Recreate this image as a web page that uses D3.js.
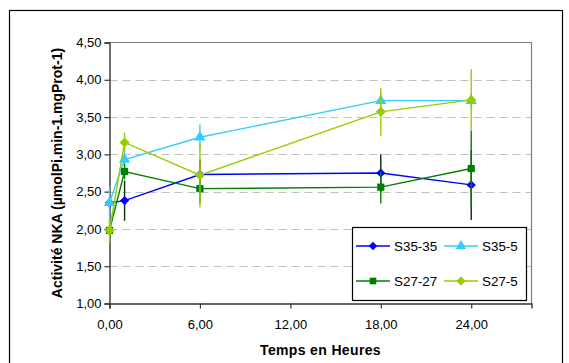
<!DOCTYPE html>
<html>
<head>
<meta charset="utf-8">
<script src="https://cdn.jsdelivr.net/npm/d3@7"></script>
<style>
  body { margin: 0; background: #fff; }
  svg text { font-family: Arial, "Liberation Sans", sans-serif; fill: #000; }
  .tick-label { font-size: 13px; }
  .axis-title { font-size: 14px; font-weight: bold; }
  .legend-label { font-size: 13.4px; }
</style>
</head>
<body>
<svg id="chart" width="569" height="363"></svg>
<script>
// Data
const hours = [0, 1, 6, 18, 24];
const xTicks = [0, 6, 12, 18, 24];
const yTicks = [1, 1.5, 2, 2.5, 3, 3.5, 4, 4.5];

const seriesNames = ["S35-35", "S35-5", "S27-27", "S27-5"];
const s3535 = [2.35, 2.38, 2.73, 2.75, 2.59];
const s3535Err = [0.05, 0.27, 0.2, 0.25, 0.47];
const s355 = [2.35, 2.93, 3.23, 3.72, 3.72];
const s355Err = [0.22, 0.1, 0.17, 0.1, 0.1];
const s2727 = [1.98, 2.77, 2.54, 2.56, 2.81];
const s2727Err = [0.05, 0.1, 0.2, 0.22, 0.51];
const s275 = [1.98, 3.16, 2.72, 3.57, 3.73];
const s275Err = [0.17, 0.13, 0.43, 0.32, 0.41];

// Excel style diamond = square turned 45 degrees
const diamond = { type: d3.symbolSquare, rot: 45 };
const triangle = { type: d3.symbolTriangle, rot: 0 };
const square = { type: d3.symbolSquare, rot: 0 };

const series = [
    { name: seriesNames[0], values: s3535, err: s3535Err, color: "#0000ff", errColor: "#0b2a08", marker: diamond, size: 42 },
    { name: seriesNames[1], values: s355, err: s355Err, color: "#33ccff", errColor: "#33ccff", marker: triangle, size: 55 },
    { name: seriesNames[2], values: s2727, err: s2727Err, color: "#008000", errColor: "#008000", marker: square, size: 52 },
    { name: seriesNames[3], values: s275, err: s275Err, color: "#99cc00", errColor: "#99cc00", marker: diamond, size: 50 }
];

const svg = d3.select("#chart");

// Outer chart frame
svg.append("rect")
    .attr("x", 9.5).attr("y", 10.5)
    .attr("width", 553).attr("height", 360)
    .attr("fill", "#fff")
    .attr("stroke", "#000")
    .attr("stroke-width", 1.2);

const plot = { left: 109.5, right: 531.5, top: 42.5, bottom: 303.5 };

const xScale = d3.scaleLinear().domain([0, 28]).range([plot.left, plot.right]);
const yScale = d3.scaleLinear().domain([1, 4.5]).range([plot.bottom, plot.top]);

// Grid lines
svg.append("g")
    .selectAll("line")
    .data(yTicks.filter(v => v > 1 && v < 4.5))
    .join("line")
    .attr("x1", plot.left)
    .attr("x2", plot.right)
    .attr("y1", d => Math.round(yScale(d)) + 0.5)
    .attr("y2", d => Math.round(yScale(d)) + 0.5)
    .attr("stroke", "#c0c0c0")
    .attr("stroke-dasharray", "8,5");

// Plot area border (top, right)
svg.append("path")
    .attr("d", `M${plot.left},${plot.top}H${plot.right}V${plot.bottom}`)
    .attr("fill", "none")
    .attr("stroke", "#808080")
    .attr("stroke-width", 1.2);

// Axes
const xAxis = d3.axisBottom(xScale)
    .tickValues(xTicks)
    .tickSize(5)
    .tickFormat(d => d3.format(".2f")(d).replace(".", ","));
const gx = svg.append("g")
    .attr("transform", `translate(0,${plot.bottom})`)
    .call(xAxis);

const yAxis = d3.axisLeft(yScale)
    .tickValues(yTicks)
    .tickSize(5)
    .tickFormat(d => d3.format(".2f")(d).replace(".", ","));
const gy = svg.append("g")
    .attr("transform", `translate(${plot.left},0)`)
    .call(yAxis);

[gx, gy].forEach(g => {
    g.select(".domain").attr("stroke", "#333").attr("stroke-width", 1.4);
    g.selectAll(".tick line").attr("stroke", "#333").attr("stroke-width", 1.2);
    g.selectAll(".tick text")
        .attr("class", "tick-label")
        .attr("font-family", null)
        .attr("font-size", null)
        .attr("fill", "#000");
});
gx.selectAll(".tick text").attr("dy", "1.35em");
gy.selectAll(".tick text").attr("x", -8);

// Axis titles
svg.append("text")
    .attr("class", "axis-title")
    .attr("x", (plot.left + plot.right) / 2)
    .attr("y", 355)
    .attr("text-anchor", "middle")
    .attr("letter-spacing", "0.35")
    .text("Temps en Heures");

svg.append("text")
    .attr("class", "axis-title")
    .attr("transform", `translate(62,${(plot.top + plot.bottom) / 2}) rotate(-90)`)
    .attr("text-anchor", "middle")
    .text("Activité NKA (µmolPi.min-1.mgProt-1)");

// Series
const line = d3.line()
    .x(d => xScale(d.t))
    .y(d => yScale(d.v));

series.forEach(s => {
    const pts = hours.map((t, i) => ({ t, v: s.values[i], e: s.err[i] }));
    const g = svg.append("g");

    g.selectAll(".err")
        .data(pts)
        .join("line")
        .attr("class", "err")
        .attr("x1", d => xScale(d.t))
        .attr("x2", d => xScale(d.t))
        .attr("y1", d => yScale(d.v - d.e))
        .attr("y2", d => yScale(d.v + d.e))
        .attr("stroke", s.errColor)
        .attr("stroke-width", 1.4);

    g.append("path")
        .datum(pts)
        .attr("d", line)
        .attr("fill", "none")
        .attr("stroke", s.color)
        .attr("stroke-width", 1.4);

    g.selectAll(".pt")
        .data(pts)
        .join("path")
        .attr("class", "pt")
        .attr("transform", d => `translate(${xScale(d.t)},${yScale(d.v)}) rotate(${s.marker.rot})`)
        .attr("d", d3.symbol().type(s.marker.type).size(s.size))
        .attr("fill", s.color);
});

// Legend
const legend = svg.append("g");
legend.append("rect")
    .attr("x", 352.5).attr("y", 227.5)
    .attr("width", 174).attr("height", 73)
    .attr("fill", "#fff")
    .attr("stroke", "#000")
    .attr("stroke-width", 1.2);

const legendPos = [
    { x: 356, y: 246 },
    { x: 444, y: 246 },
    { x: 356, y: 281 },
    { x: 444, y: 281 }
];

series.forEach((s, i) => {
    const p = legendPos[i];
    legend.append("line")
        .attr("x1", p.x).attr("x2", p.x + 34)
        .attr("y1", p.y).attr("y2", p.y)
        .attr("stroke", s.color)
        .attr("stroke-width", 1.4);
    legend.append("path")
        .attr("transform", `translate(${p.x + 17},${p.y}) rotate(${s.marker.rot})`)
        .attr("d", d3.symbol().type(s.marker.type).size(s.size * 0.85))
        .attr("fill", s.color);
    legend.append("text")
        .attr("class", "legend-label")
        .attr("x", p.x + 38)
        .attr("y", p.y)
        .attr("dy", "0.35em")
        .text(s.name);
});
</script>
</body>
</html>
